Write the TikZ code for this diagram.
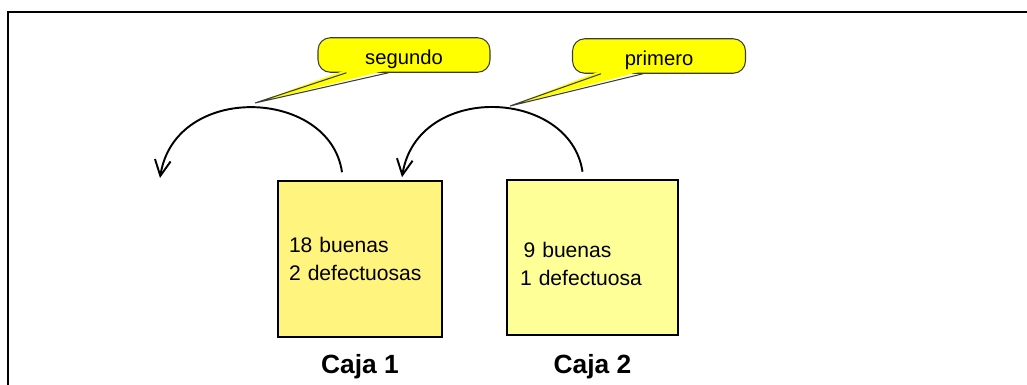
\documentclass[tikz,border=0pt]{standalone}
\usepackage{fontspec}
\setmainfont{Liberation Sans}
\usepackage{tikz}
\usetikzlibrary{calc,arrows.meta,positioning}
\definecolor{cajaUno}{RGB}{255,244,125}
\definecolor{cajaDos}{RGB}{255,255,152}
\definecolor{globoFill}{RGB}{255,255,0}
\definecolor{globoLine}{RGB}{60,60,60}

\begin{document}
\begin{tikzpicture}[x=0.02cm,y=-0.02cm,
  caja/.style={draw=black, line width=1.2pt, align=left, minimum height=3.11cm,
    font=\fontsize{12}{16}\selectfont},
  etiqueta/.style={inner sep=0pt, font=\fontsize{15}{18}\selectfont\bfseries},
  globo/.style={draw=globoLine, fill=globoFill, line width=0.6pt, rounded corners=7pt,
    minimum height=0.69cm, text height=11pt, text depth=0pt, font=\fontsize{11.5}{14}\selectfont},
  flecha/.style={line width=1.1pt, -{Straight Barb[length=9pt,width=9pt]}}]
\useasboundingbox (0,0) rectangle (1027,385);
\draw[line width=1.7pt] (1027,12) -- (8,12) -- (8,386);

% las dos cajas
\node[caja, fill=cajaUno, text width=2.84cm, inner xsep=0.22cm] (caja1) at (360,259) {18 buenas\\2 defectuosas};
\node[caja, fill=cajaDos, text width=2.90cm, inner xsep=0.26cm] (caja2) at (592.5,257.5) {\rule{0pt}{1.3em}\,9 buenas\\1 defectuosa};
\node[etiqueta, below=0.33cm of caja1] (lab1) {Caja 1};
\node[etiqueta, below=0.35cm of caja2] (lab2) {Caja 2};

% flechas
\coordinate (fin1) at (160,178);
\coordinate (ini1) at ($(caja1.north)+(-18,-8)$);
\coordinate (ini2) at ($(caja2.north)+(-10,-7)$);
\coordinate (fin2) at ($(caja1.north)+(42,-3)$);
\draw[flecha] (ini1) .. controls (330,88) and (175,82) .. (fin1);
\draw[flecha] (ini2) .. controls (570,88) and (417,82) .. (fin2);

% globos
\node[globo, minimum width=3.44cm] (seg) at (404,55) {segundo};
\node[globo, minimum width=3.46cm] (pri) at (659,56) {primero};
\coordinate (pSeg) at (255,103);
\coordinate (pPri) at (510,106);
\foreach \g/\p in {seg/pSeg,pri/pPri}{
  \fill[globoFill] ($(\g.south west)+(29,-3)$) -- (\p) -- ($(\g.south west)+(71,-3)$) -- cycle;
  \draw[globoLine, line width=0.6pt] ($(\g.south west)+(29,0)$) -- (\p) -- ($(\g.south west)+(71,0)$);
}
\end{tikzpicture}
\end{document}
